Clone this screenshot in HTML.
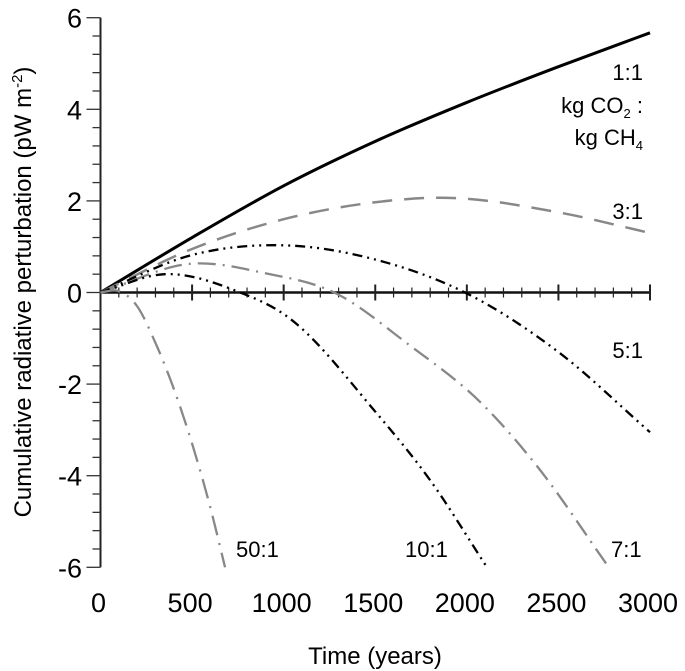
<!DOCTYPE html>
<html><head><meta charset="utf-8"><style>
html,body{margin:0;padding:0;background:#fff}
svg{display:block;font-family:"Liberation Sans",Arial,sans-serif}
</style></head><body>
<svg id="chart" width="685" height="671" viewBox="0 0 685 671">
<g id="axes"></g>
<g id="series"></g>
<g id="labels">
<text x="643" y="80" text-anchor="end" font-size="22">1:1</text>
<text x="643" y="113" text-anchor="end" font-size="22">kg CO<tspan font-size="13" dy="5">2</tspan><tspan dy="-5"> :</tspan></text>
<text x="643" y="145" text-anchor="end" font-size="22">kg CH<tspan font-size="13" dy="5">4</tspan></text>
<text x="643" y="219" text-anchor="end" font-size="22">3:1</text>
<text x="643" y="358" text-anchor="end" font-size="22">5:1</text>
<text x="236" y="557" font-size="22">50:1</text>
<text x="405" y="557" font-size="22">10:1</text>
<text x="611" y="557" font-size="22">7:1</text>
</g>
<text x="375" y="664" text-anchor="middle" font-size="24">Time (years)</text>
<text transform="translate(31,292) rotate(-90)" text-anchor="middle" font-size="24">Cumulative radiative perturbation (pW m<tspan font-size="15" dy="-9">-2</tspan><tspan dy="9">)</tspan></text>
</svg>
<script>
const xTicks = [0,500,1000,1500,2000,2500,3000];
const yTicks = [-6,-4,-2,0,2,4,6];
const t11 = [0,500,1000,1500,2000,2500,3000];
const v11 = [0,1.2,2.33,3.3,4.15,4.93,5.67];
const t31 = [0,500,1000,1500,1850,2500,3000];
const v31 = [0,0.95,1.6,1.97,2.07,1.75,1.3];
const t51 = [0,500,1000,1500,2000,2500,3000];
const v51 = [0,0.82,1.03,0.72,-0.02,-1.3,-3.05];
const t71 = [0,500,900,1276,1680,2088,2381,2775];
const v71 = [0,0.63,0.42,0,-1.13,-2.45,-3.78,-6];
const t101 = [0,350,750,1000,1500,1800,2110];
const v101 = [0,0.4,0.02,-0.47,-2.6,-4.1,-6];
const t501 = [0,100,200,300,400,500,600,680];
const v501 = [0,0.03,-0.3,-1.1,-2.1,-3.3,-4.7,-6];

const X = t => 100.5 + t*(549.5/3000);
const Y = v => 292.5 - v*45.8;
const NS='http://www.w3.org/2000/svg';
function mk(tag, attrs, parent){const e=document.createElementNS(NS,tag);for(const k in attrs)e.setAttribute(k,attrs[k]);parent.appendChild(e);return e;}
const axes=document.getElementById('axes');
const yl=mk('line',{x1:X(0),y1:Y(6),x2:X(0),y2:Y(-6),stroke:'#222','stroke-width':2},axes);


for(let i=0;i<=30;i++){const v=-6+i*0.4;const major=Math.abs(v-Math.round(v))<1e-6&&Math.round(v)%2===0;
 const tk=mk('line',{x1:X(0)-(major?14:8),y1:Y(v),x2:X(0),y2:Y(v),stroke:'#333','stroke-width':1.3},axes);
 
 }
yTicks.forEach(v=>{const t=mk('text',{x:82,y:Y(v)+10,'text-anchor':'end','font-size':27},axes);t.textContent=v;
 
 });
const xl=mk('line',{x1:X(0),y1:Y(0),x2:X(3000),y2:Y(0),stroke:'#111','stroke-width':2.5},axes);


for(let t=100;t<=3000;t+=100){const major=t%500===0;
 const tk=mk('line',{x1:X(t),y1:Y(0)-(major?8:5),x2:X(t),y2:Y(0)+(major?8:5),stroke:'#222','stroke-width':major?2:1.2},axes);
 
 }
xTicks.forEach(t=>{const e=mk('text',{x:X(t)-2,y:612,'text-anchor':'middle','font-size':27},axes);e.textContent=t;
 
 });
function path(ts,vs){const n=ts.length,m=[];
 for(let i=0;i<n;i++){
  if(i===0)m.push((vs[1]-vs[0])/(ts[1]-ts[0]));
  else if(i===n-1)m.push((vs[n-1]-vs[n-2])/(ts[n-1]-ts[n-2]));
  else{const h0=ts[i]-ts[i-1],h1=ts[i+1]-ts[i],d0=(vs[i]-vs[i-1])/h0,d1=(vs[i+1]-vs[i])/h1;m.push((d0*h1+d1*h0)/(h0+h1));}}
 let d='M'+X(ts[0])+','+Y(vs[0]);
 for(let i=0;i<n-1;i++){const h=ts[i+1]-ts[i];
  d+=` C${X(ts[i]+h/3)},${Y(vs[i]+m[i]*h/3)} ${X(ts[i+1]-h/3)},${Y(vs[i+1]-m[i+1]*h/3)} ${X(ts[i+1])},${Y(vs[i+1])}`;}
 return d;}
const ser=document.getElementById('series');
const defs=[
 [t11,v11,'#000',3,'none','series-1-1'],
 [t31,v31,'#888',2.5,'20 12','series-3-1'],
 [t51,v51,'#000',2.3,'10 5 2 5 2 5','series-5-1'],
 [t71,v71,'#888',2.3,'18 7 2 7','series-7-1'],
 [t101,v101,'#000',2.3,'10 5 2 5 2 5','series-10-1'],
 [t501,v501,'#888',2.3,'20 8 2 8','series-50-1']];
defs.forEach(s=>{const e=mk('path',{d:path(s[0],s[1]),fill:'none',stroke:s[2],'stroke-width':s[3],'stroke-dasharray':s[4]},ser);
 
 });
</script>
</body></html>
